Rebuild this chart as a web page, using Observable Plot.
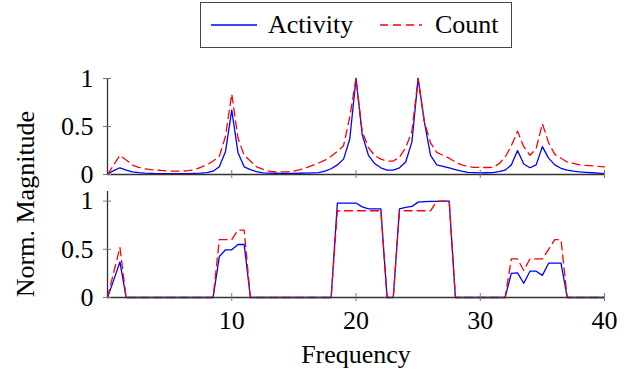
<!DOCTYPE html>
<html><head><meta charset="utf-8">
<script src="https://cdn.jsdelivr.net/npm/d3@7"></script>
<script src="https://cdn.jsdelivr.net/npm/@observablehq/plot@0.6"></script>
<style>
body{margin:0;background:#fff;}
#chart{position:relative;width:639px;height:374px;font-family:"Liberation Serif","Times New Roman",serif;color:#000;overflow:hidden;}
#chart .abs{position:absolute;}
#chart svg text, #chart svg g{font-family:"Liberation Serif","Times New Roman",serif !important;font-variant:normal !important;}
</style></head><body><div id="chart"></div>
<script>
// ---- data ----
const frequency = [0,0.5,1,1.5,2,2.5,3,3.5,4,4.5,5,5.5,6,6.5,7,7.5,8,8.5,9,9.5,10,10.5,11,11.5,12,12.5,13,13.5,14,14.5,15,15.5,16,16.5,17,17.5,18,18.5,19,19.5,20,20.5,21,21.5,22,22.5,23,23.5,24,24.5,25,25.5,26,26.5,27,27.5,28,28.5,29,29.5,30,30.5,31,31.5,32,32.5,33,33.5,34,34.5,35,35.5,36,36.5,37,37.5,38,38.5,39,39.5,40];

// top panel: spectra
const activitySpectrum = [0.005,0.04,0.07,0.045,0.027,0.02,0.015,0.012,0.01,0.01,0.01,0.01,0.01,0.01,0.012,0.015,0.02,0.034,0.08,0.24,0.67,0.23,0.08,0.05,0.03,0.017,0.015,0.013,0.012,0.012,0.012,0.013,0.015,0.017,0.02,0.035,0.06,0.1,0.16,0.37,1.0,0.415,0.2,0.114,0.07,0.045,0.045,0.07,0.13,0.34,1.0,0.55,0.2,0.1,0.084,0.068,0.052,0.036,0.022,0.019,0.017,0.018,0.02,0.03,0.045,0.1,0.25,0.11,0.07,0.1,0.29,0.17,0.1,0.065,0.045,0.035,0.027,0.022,0.018,0.014,0.01];
const countSpectrum = [0.0,0.1,0.2,0.15,0.1,0.075,0.06,0.05,0.045,0.04,0.035,0.035,0.035,0.04,0.05,0.075,0.1,0.14,0.19,0.4,0.84,0.38,0.2,0.14,0.08,0.055,0.035,0.027,0.027,0.027,0.035,0.05,0.07,0.095,0.12,0.15,0.19,0.24,0.3,0.6,1.0,0.45,0.28,0.2,0.16,0.14,0.14,0.18,0.28,0.45,1.0,0.55,0.33,0.23,0.2,0.17,0.13,0.1,0.085,0.075,0.073,0.073,0.075,0.11,0.18,0.3,0.45,0.29,0.2,0.27,0.53,0.33,0.21,0.17,0.13,0.115,0.1,0.095,0.09,0.085,0.08];

// bottom panel: band magnitudes
const activityBand = [0,0.18,0.37,0,0,0,0,0,0,0,0,0,0,0,0,0,0,0,0.425,0.495,0.495,0.55,0.55,0,0,0,0,0,0,0,0,0,0,0,0,0,0,0.98,0.98,0.98,0.98,0.94,0.92,0.92,0.92,0,0,0.92,0.935,0.945,0.99,0.995,0.997,0.998,1.0,1.0,0,0,0,0,0,0,0,0,0,0.25,0.256,0.148,0.273,0.273,0.23,0.356,0.356,0.356,0,0,0,0,0,0,0];
const countBand = [0,0.26,0.52,0,0,0,0,0,0,0,0,0,0,0,0,0,0,0,0.6,0.6,0.6,0.7,0.7,0,0,0,0,0,0,0,0,0,0,0,0,0,0,0.9,0.9,0.9,0.9,0.9,0.9,0.9,0.9,0,0,0.9,0.9,0.9,0.9,0.9,0.9,1.0,1.0,1.0,0,0,0,0,0,0,0,0,0,0.4,0.4,0.28,0.4,0.4,0.4,0.5,0.6,0.6,0,0,0,0,0,0,0];

const xTicks = [10, 20, 30, 40];
const yTicks = [0, 0.5, 1];
const seriesNames = ["Activity", "Count"];
const seriesColors = ["#0000ff", "#ff0000"];
const xLabel = "Frequency";
const yLabel = "Norm. Magnitude";

// ---- drawing ----
const FONT = '"Liberation Serif","Times New Roman",serif';
const chartEl = document.getElementById("chart");

function panel(act, cnt, yMax, height, marginTop, marginBottom, showX) {
  const rows = frequency.map((f, i) => ({f, a: act[i], c: cnt[i]}));
  return Plot.plot({
    width: 639, height, marginLeft: 107, marginRight: 35, marginTop, marginBottom,
    x: {domain: [0, 40]},
    y: {domain: [0, yMax]},
    style: {fontFamily: FONT, fontSize: "26px", background: "transparent", overflow: "visible", color: "#000"},
    marks: [
      Plot.line(rows, {x: "f", y: "a", stroke: seriesColors[0], strokeWidth: 1.3}),
      Plot.line(rows, {x: "f", y: "c", stroke: seriesColors[1], strokeWidth: 1.3, strokeDasharray: "8,5"}),
      Plot.ruleY([0], {stroke: "#333", strokeWidth: 1.3}),
      Plot.ruleX([0], {stroke: "#333", strokeWidth: 1.3}),
      Plot.axisX(xTicks, {tickSize: 8, dy: -4, fill: "none", stroke: "#777", label: null}),
      showX ? Plot.axisX(xTicks, {tickSize: 0, tickPadding: 13, stroke: "none", fontSize: 26, fontFamily: FONT, label: null}) : null,
      Plot.axisY(yTicks, {tickSize: 8, dx: 4, fill: "none", stroke: "#777", label: null}),
      Plot.axisY(yTicks, {tickSize: 0, tickPadding: 14, stroke: "none", fontSize: 26, fontFamily: FONT, label: null, tickFormat: d => String(d)}),
      showX ? Plot.text([xLabel], {frameAnchor: "bottom", dy: 57, lineAnchor: "middle", fontSize: 26, fontFamily: FONT}) : null
    ]
  });
}

const topPanel = panel(activitySpectrum, countSpectrum, 1, 180, 78, 6, false);
topPanel.classList.add("abs");
topPanel.style.left = "0px"; topPanel.style.top = "0px";
chartEl.appendChild(topPanel);

const bottomPanel = panel(activityBand, countBand, 1.1, 194, 11, 77, true);
bottomPanel.classList.add("abs");
bottomPanel.style.left = "0px"; bottomPanel.style.top = "180px";
chartEl.appendChild(bottomPanel);

// y label
const yl = document.createElement("div");
yl.className = "abs";
yl.textContent = yLabel;
Object.assign(yl.style, {left: "26px", top: "204px", fontSize: "26px", lineHeight: "26px", whiteSpace: "nowrap",
  transform: "translate(-50%,-50%) rotate(-90deg)"});
chartEl.appendChild(yl);

// legend
const leg = document.createElement("div");
leg.className = "abs";
Object.assign(leg.style, {left: "200px", top: "2px", width: "312px", height: "46px", border: "1.5px solid #444",
  boxSizing: "border-box", background: "#fff"});
chartEl.appendChild(leg);
const items = [
  {sx: 10, sw: 46, tx: 67, dash: null},
  {sx: 179, sw: 42, tx: 234, dash: "8,5"}
];
items.forEach((it, k) => {
  const s = document.createElementNS("http://www.w3.org/2000/svg", "svg");
  s.setAttribute("width", it.sw); s.setAttribute("height", 6);
  s.setAttribute("class", "abs");
  s.style.left = it.sx + "px"; s.style.top = "19px";
  const l = document.createElementNS("http://www.w3.org/2000/svg", "line");
  l.setAttribute("x1", 0); l.setAttribute("x2", it.sw); l.setAttribute("y1", 3); l.setAttribute("y2", 3);
  l.setAttribute("stroke", seriesColors[k]); l.setAttribute("stroke-width", 1.3);
  if (it.dash) l.setAttribute("stroke-dasharray", it.dash);
  s.appendChild(l);
  leg.appendChild(s);
  const t = document.createElement("div");
  t.className = "abs";
  t.textContent = seriesNames[k];
  Object.assign(t.style, {left: it.tx + "px", top: "0px", fontSize: "26px", lineHeight: "43px", whiteSpace: "nowrap"});
  leg.appendChild(t);
});
</script></body></html>
